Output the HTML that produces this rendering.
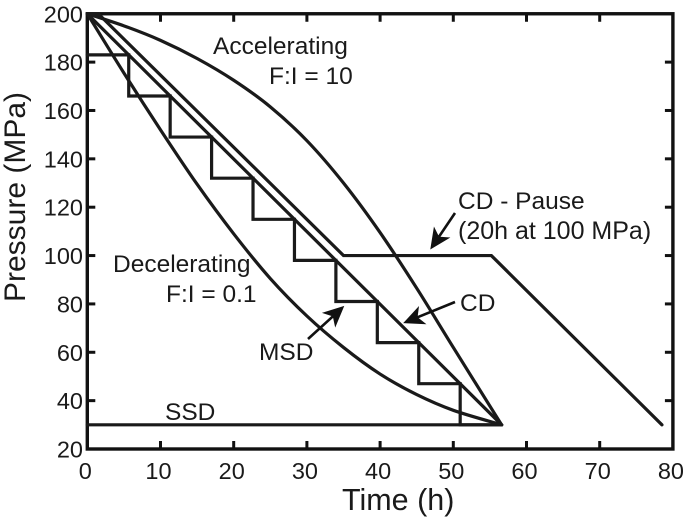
<!DOCTYPE html>
<html>
<head>
<meta charset="utf-8">
<style>
html,body{margin:0;padding:0;background:#fff;}
svg{display:block;}
text{font-family:"Liberation Sans",sans-serif;fill:#1a1a1a;}
</style>
</head>
<body>
<svg id="chart" width="685" height="517" viewBox="0 0 685 517" xmlns="http://www.w3.org/2000/svg">
<text transform="translate(25,302) rotate(-90)" font-size="30">Pressure (MPa)</text>
<text x="342" y="510" font-size="30.5">Time (h)</text>
<text x="213" y="54" font-size="24.5">Accelerating</text>
<text x="269" y="84" font-size="24.5">F:I = 10</text>
<text x="113" y="272" font-size="24.5">Decelerating</text>
<text x="166" y="302" font-size="24.5">F:I = 0.1</text>
<text x="458" y="209" font-size="24.5">CD - Pause</text>
<text x="458" y="239" font-size="25">(20h at 100 MPa)</text>
<text x="460" y="311" font-size="24.5">CD</text>
<text x="259" y="360" font-size="24.5">MSD</text>
<text x="165" y="420" font-size="24.5">SSD</text>
</svg>
<script>
var xTicks = [0, 10, 20, 30, 40, 50, 60, 70, 80];
var yTicks = [20, 40, 60, 80, 100, 120, 140, 160, 180, 200];
var acceleratingTime = [0, 5, 10, 15, 20, 25, 30, 35, 40, 45, 50, 56.6];
var acceleratingPressure = [200, 195, 189, 181.5, 172.5, 161.5, 147.5, 130, 109.5, 86.5, 62, 30];
var deceleratingTime = [0, 5, 10, 15, 20, 25, 30, 35, 40, 45, 50, 56.6];
var deceleratingPressure = [200, 175.5, 152, 129.5, 109, 90.5, 75, 62, 51, 42.5, 36, 30];
var cdTime = [0, 56.6];
var cdPressure = [200, 30];
var pauseTime = [0, 1.5, 35, 55.2, 78.5];
var pausePressure = [200, 200, 100, 100, 30];
var msdTime = [0, 5.66, 5.66, 11.32, 11.32, 16.98, 16.98, 22.64, 22.64, 28.3, 28.3, 33.96, 33.96, 39.62, 39.62, 45.28, 45.28, 50.94, 50.94, 56.6];
var msdPressure = [183, 183, 166, 166, 149, 149, 132, 132, 115, 115, 98, 98, 81, 81, 64, 64, 47, 47, 30, 30];
var ssdTime = [0, 56.6];
var ssdPressure = [30, 30];

var svg = document.getElementById('chart');
var NS = 'http://www.w3.org/2000/svg';
function sx(t) { return 87.3 + t * 7.32; }
function sy(p) { return 449 - (p - 20) * 2.418; }
function make(tag, attrs) {
  var el = document.createElementNS(NS, tag);
  for (var k in attrs) el.setAttribute(k, attrs[k]);
  svg.appendChild(el);
  return el;
}
function straight(ts, ps) {
  var d = '';
  for (var i = 0; i < ts.length; i++) d += (i ? 'L' : 'M') + sx(ts[i]).toFixed(2) + ' ' + sy(ps[i]).toFixed(2);
  return d;
}
function smooth(ts, ps) {
  var pts = ts.map(function (t, i) { return [sx(t), sy(ps[i])]; });
  var d = 'M' + pts[0][0].toFixed(2) + ' ' + pts[0][1].toFixed(2);
  for (var i = 0; i < pts.length - 1; i++) {
    var a = pts[Math.max(i - 1, 0)], b = pts[i], c = pts[i + 1], e = pts[Math.min(i + 2, pts.length - 1)];
    d += 'C' + (b[0] + (c[0] - a[0]) / 6).toFixed(2) + ' ' + (b[1] + (c[1] - a[1]) / 6).toFixed(2) + ' ' +
      (c[0] - (e[0] - b[0]) / 6).toFixed(2) + ' ' + (c[1] - (e[1] - b[1]) / 6).toFixed(2) + ' ' +
      c[0].toFixed(2) + ' ' + c[1].toFixed(2);
  }
  return d;
}
var lineStyle = { fill: 'none', stroke: '#1a1a1a', 'stroke-width': 3.2, 'stroke-linejoin': 'miter', 'stroke-linecap': 'round' };
function addSeries(d) {
  var attrs = { d: d };
  for (var k in lineStyle) attrs[k] = lineStyle[k];
  return make('path', attrs);
}

var frame = make('rect', { x: sx(0), y: sy(200), width: sx(80) - sx(0), height: sy(20) - sy(200), fill: 'none', stroke: '#111', 'stroke-width': 3.4 });



xTicks.forEach(function (v) {
  if (v > 0 && v < 80) {
    var b = make('line', { x1: sx(v), x2: sx(v), y1: sy(20), y2: sy(20) - 8, stroke: '#111', 'stroke-width': 3 });
    
    
    var t = make('line', { x1: sx(v), x2: sx(v), y1: sy(200), y2: sy(200) + 8, stroke: '#111', 'stroke-width': 3 });
    
    
  }
  var lab = make('text', { x: sx(v) - 2, y: 479, 'font-size': 23.5, 'text-anchor': 'middle' });
  lab.textContent = v;
  
  
});
yTicks.forEach(function (v) {
  if (v > 20 && v < 200) {
    var l = make('line', { x1: sx(0), x2: sx(0) + 8, y1: sy(v), y2: sy(v), stroke: '#111', 'stroke-width': 3 });
    
    
    var r = make('line', { x1: sx(80), x2: sx(80) - 8, y1: sy(v), y2: sy(v), stroke: '#111', 'stroke-width': 3 });
    
    
  }
  var lab = make('text', { x: 83, y: sy(v) + 8.5, 'font-size': 23.5, 'text-anchor': 'end' });
  lab.textContent = v;
  
  
});

var s1 = addSeries(smooth(acceleratingTime, acceleratingPressure));


var s2 = addSeries(smooth(deceleratingTime, deceleratingPressure));


var s3 = addSeries(straight(cdTime, cdPressure));


var s4 = addSeries(straight(pauseTime, pausePressure));


var s5 = addSeries(straight(msdTime, msdPressure));


var s6 = addSeries(straight(ssdTime, ssdPressure));



function arrow(x1, y1, x2, y2) {
  var dx = x2 - x1, dy = y2 - y1, len = Math.sqrt(dx * dx + dy * dy), ux = dx / len, uy = dy / len;
  var bx = x2 - ux * 15, by = y2 - uy * 15, nx = -uy * 7, ny = ux * 7;
  var nk = x2 - ux * 11, mk = y2 - uy * 11;
  return make('path', {
    d: 'M' + x1 + ' ' + y1 + 'L' + nk.toFixed(1) + ' ' + mk.toFixed(1) +
       'M' + x2 + ' ' + y2 + 'L' + (bx + nx).toFixed(1) + ' ' + (by + ny).toFixed(1) +
       'L' + nk.toFixed(1) + ' ' + mk.toFixed(1) +
       'L' + (bx - nx).toFixed(1) + ' ' + (by - ny).toFixed(1) + 'Z',
    fill: '#111', stroke: '#111', 'stroke-width': 2.6
  });
}
var a1 = arrow(455, 213, 432, 247);


var a2 = arrow(455, 302, 406, 322);


var a3 = arrow(308, 339, 342, 308);


</script>
</body>
</html>
